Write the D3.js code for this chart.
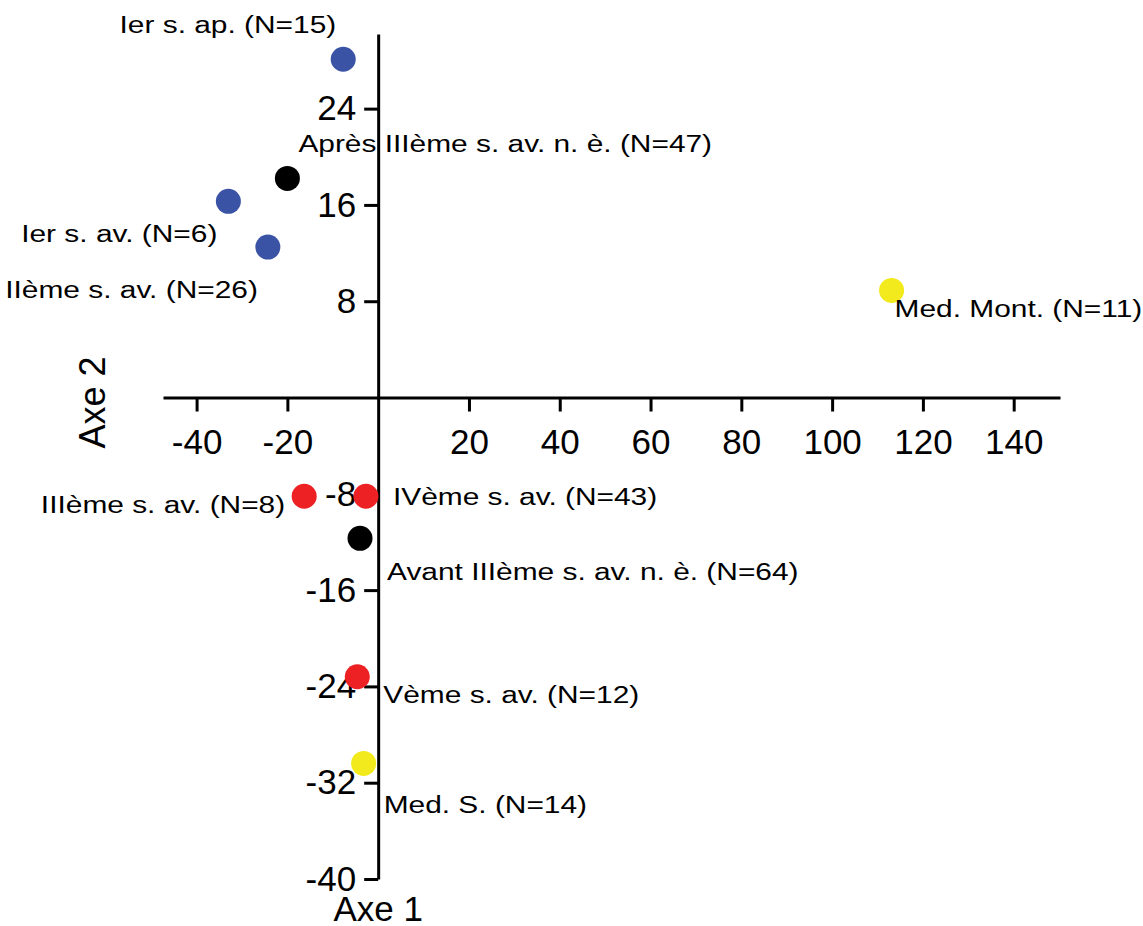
<!DOCTYPE html>
<html>
<head>
<meta charset="utf-8">
<script src="https://cdn.jsdelivr.net/npm/d3@7"></script>
<style>
  html, body { margin: 0; padding: 0; background: #fff; }
  svg { display: block; font-family: "Liberation Sans", Arial, Helvetica, sans-serif; }
</style>
</head>
<body>
<svg id="chart" width="1143" height="926"></svg>
<script>
// ---- Data ----
const labels = [
  "Ier s. ap. (N=15)",
  "Après IIIème s. av. n. è. (N=47)",
  "Ier s. av. (N=6)",
  "IIème s. av. (N=26)",
  "Med. Mont. (N=11)",
  "IIIème s. av. (N=8)",
  "IVème s. av. (N=43)",
  "Avant IIIème s. av. n. è. (N=64)",
  "Vème s. av. (N=12)",
  "Med. S. (N=14)"
];
const axe1 = [-7.7, -20.0, -33.0, -24.3, 113.1, -16.3, -2.7, -4.0, -4.6, -3.2];
const axe2 = [28.1, 18.2, 16.3, 12.5, 8.9, -8.2, -8.2, -11.7, -23.2, -30.4];
const groups = ["blue", "black", "blue", "blue", "yellow", "red", "red", "black", "red", "yellow"];
const xTicks = [-40, -20, 20, 40, 60, 80, 100, 120, 140];
const yTicks = [24, 16, 8, -8, -16, -24, -32, -40];
const xTitle = "Axe 1";
const yTitle = "Axe 2";

// ---- Layout / style (not data) ----
const colors = { blue: "#3a53a4", black: "#000000", red: "#ed2024", yellow: "#f2ea1d" };
// label offsets in px relative to point: [dx, dy, anchor]
const labelOffsets = [
  [-7, -26, "end"],
  [11, -26, "start"],
  [-11, 41, "end"],
  [-10, 51, "end"],
  [3, 27, "start"],
  [-19, 17, "end"],
  [27, 9, "start"],
  [27, 42, "start"],
  [26, 26, "start"],
  [20, 50, "start"]
];
const labelStretch = 1.22;

const svg = d3.select("#chart");
const x = d3.scaleLinear().domain([-47.4, 150.2]).range([163, 1060]);
const y = d3.scaleLinear().domain([-40, 30.2]).range([879, 34]);

const x0 = x(0), y0 = y(0);
const fmt = d => String(d);

// X axis
const xAxis = svg.append("g")
  .attr("transform", `translate(0,${y0})`)
  .call(d3.axisBottom(x).tickValues(xTicks).tickFormat(fmt)
    .tickSize(14).tickSizeOuter(0).tickPadding(18));
// Y axis
const yAxis = svg.append("g")
  .attr("transform", `translate(${x0},0)`)
  .call(d3.axisLeft(y).tickValues(yTicks).tickFormat(fmt)
    .tickSize(14).tickSizeOuter(0).tickPadding(8));

[xAxis, yAxis].forEach(g => {
  g.select(".domain").attr("stroke", "#000").attr("stroke-width", 3);
  g.selectAll(".tick line").attr("stroke", "#000").attr("stroke-width", 3);
  g.selectAll(".tick text").attr("fill", "#000").style("font-size", "35px")
    .style("font-family", "'Liberation Sans', Arial, sans-serif");
});

// Points
const idx = d3.range(labels.length);
svg.append("g").selectAll("circle").data(idx).join("circle")
  .attr("cx", i => x(axe1[i]))
  .attr("cy", i => y(axe2[i]))
  .attr("r", 12.5)
  .attr("fill", i => colors[groups[i]]);

// Labels (slightly stretched horizontally like the reference)
svg.append("g").selectAll("text").data(idx).join("text")
  .attr("transform", i => `translate(${x(axe1[i]) + labelOffsets[i][0]},${y(axe2[i]) + labelOffsets[i][1]}) scale(${labelStretch},1)`)
  .attr("text-anchor", i => labelOffsets[i][2])
  .style("font-size", "24.5px")
  .attr("fill", "#000")
  .text(i => labels[i]);

// Axis titles
svg.append("text")
  .attr("x", x0)
  .attr("y", 921)
  .attr("text-anchor", "middle")
  .style("font-size", "35px")
  .text(xTitle);

svg.append("text")
  .attr("transform", `translate(105,${y0 + 5}) rotate(-90)`)
  .attr("text-anchor", "middle")
  .style("font-size", "36px")
  .text(yTitle);
</script>
</body>
</html>
